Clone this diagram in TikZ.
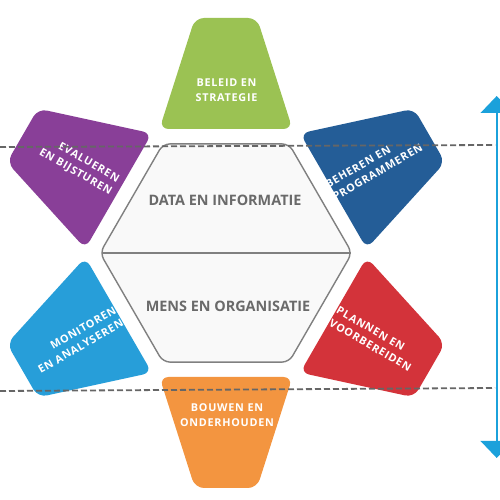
\documentclass[tikz,border=0pt]{standalone}
\usepackage{fontspec}
\setmainfont{Open Sans}
\newfontfamily\petalfont[LetterSpace=7]{Open Sans}
\usetikzlibrary{arrows.meta}
\definecolor{cgreen}{HTML}{9BC253}
\definecolor{cpurple}{HTML}{893F98}
\definecolor{cdblue}{HTML}{245D97}
\definecolor{ccyan}{HTML}{279ED9}
\definecolor{cred}{HTML}{D3333A}
\definecolor{corange}{HTML}{F39540}
\definecolor{carrow}{HTML}{1BA1DB}
\definecolor{hexstroke}{HTML}{808080}
\definecolor{hexfill}{HTML}{F9F9F9}
\definecolor{dashgray}{HTML}{666666}
\definecolor{ctextgray}{HTML}{6A6A6A}
\tikzset{
  ptext/.style={text=white, inner sep=0pt, font=\petalfont\bfseries\fontsize{10.8}{14.5}\selectfont},
  ctext/.style={text=ctextgray, inner sep=0pt, font=\bfseries\fontsize{14.4}{16}\selectfont},
  hexline/.style={draw=hexstroke, line width=1.4pt},
  dashline/.style={draw=dashgray, line width=1.8pt, dash pattern=on 6pt off 3pt},
  petalshape/.style={rounded corners=9pt}
}
\begin{document}
\begin{tikzpicture}[x=1pt,y=1pt]
\useasboundingbox (0,0) rectangle (500,500);
\clip (0,0) rectangle (500,500);
\fill[white] (0,0) rectangle (500,500);
% petals
\foreach \a/\c in {90/cgreen,30/cdblue,-30/cred,-90/corange,-150/ccyan,150/cpurple}{
  \begin{scope}[shift={(226,247)},rotate={\a-90}]
    \fill[\c, petalshape] (-66.5,124) -- (66.5,124) -- (31,235) -- (-31,235) -- cycle;
  \end{scope}
}
% hexagon
\draw[hexline, fill=hexfill, rounded corners=7pt] (352,247) -- (289,356.1) -- (163,356.1) -- (100,247) -- (163,137.9) -- (289,137.9) -- cycle;
\coordinate (hl) at (101.5,247);
\coordinate (hr) at (350.5,247);
\draw[hexline] (hl) -- (hr);
\node[ctext] (data) at (225,300) {DATA EN INFORMATIE};
\node[ctext] (mens) at (228,194) {MENS EN ORGANISATIE};
% petal labels
\node[ptext, align=center] (beleid) at (226.5,410) {BELEID EN\\STRATEGIE};
\node[ptext, align=left, rotate=30] (beheren) at (374,334) {BEHEREN EN\\PROGRAMMEREN};
\node[ptext, align=left, rotate=-30] (plannen) at (374,161) {PLANNEN EN\\VOORBEREIDEN};
\node[ptext, align=center] (bouwen) at (227,85) {BOUWEN EN\\ONDERHOUDEN};
\node[ptext, align=right, rotate=30] (monitoren) at (77,160) {MONITOREN\\EN ANALYSEREN};
\node[ptext, align=right, rotate=-30] (evalueren) at (79,334) {EVALUEREN\\EN BIJSTUREN};
% dashed lines
\coordinate (d1a) at (0,353);
\coordinate (d1b) at (495,355);
\coordinate (d2a) at (0,109);
\coordinate (d2b) at (495,112);
\draw[dashline] (d1a) -- (d1b);
\draw[dashline] (d2a) -- (d2b);
% arrow
\coordinate (atop) at (496.7,404);
\coordinate (abot) at (496.7,42);
\draw[carrow, line width=2pt, {Triangle[width=32pt,length=17pt]}-{Triangle[width=32pt,length=17pt]}] (abot) -- (atop);
\end{tikzpicture}
\end{document}
